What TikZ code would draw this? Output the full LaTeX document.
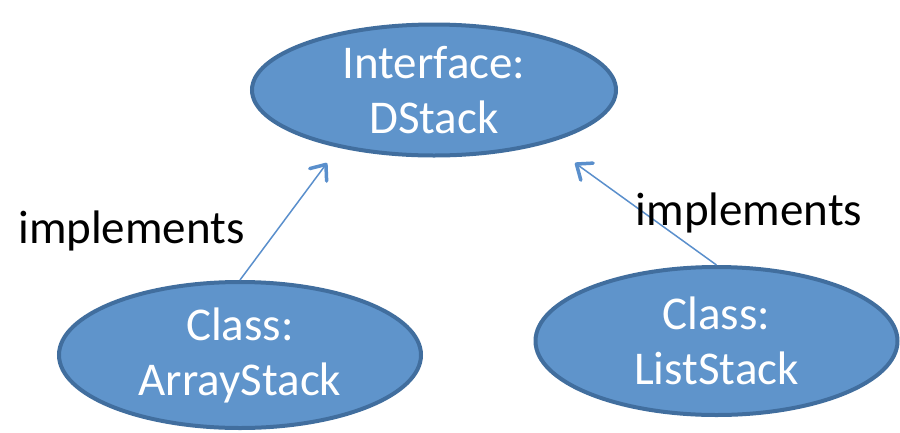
\documentclass[tikz,border=0pt]{standalone}
\usepackage{fontspec}
\setmainfont{Carlito}
\usetikzlibrary{shapes.geometric,arrows.meta}
\definecolor{ellfill}{RGB}{95,148,203}
\definecolor{elldraw}{RGB}{65,110,158}
\definecolor{arrcol}{RGB}{90,143,204}
\tikzset{
  ell/.style={ellipse, fill=ellfill, draw=elldraw, line width=4pt, inner sep=0pt,
    text=white, align=center, font=\fontsize{47}{55}\selectfont},
  impl/.style={draw=arrcol, line width=1.5pt,
    -{Straight Barb[length=13pt,width=21pt,line width=3.5pt,round]}},
  lbl/.style={anchor=base, font=\fontsize{47}{55}\selectfont, inner sep=0pt}
}
\begin{document}
\begin{tikzpicture}[x=1pt,y=-1pt]
\useasboundingbox (0,0) rectangle (900,432);
\node[ell, minimum width=364pt, minimum height=131pt] (top) at (434,90) {Interface:\\DStack};
\node[ell, minimum width=362pt, minimum height=146pt] (arr) at (240,355) {Class:\\ArrayStack};
\node[ell, minimum width=362pt, minimum height=148pt] (ls) at (716.5,341) {Class:\\ListStack};
\coordinate (tipL) at (327,163);
\coordinate (tipR) at (575,163);
\draw[impl] (arr.north) -- (tipL);
\draw[impl] (ls.north) -- (tipR);
\node[lbl] (impL) at (131.5,243) {implements};
\node[lbl] (impR) at (749,225) {implements};
\end{tikzpicture}
\end{document}
